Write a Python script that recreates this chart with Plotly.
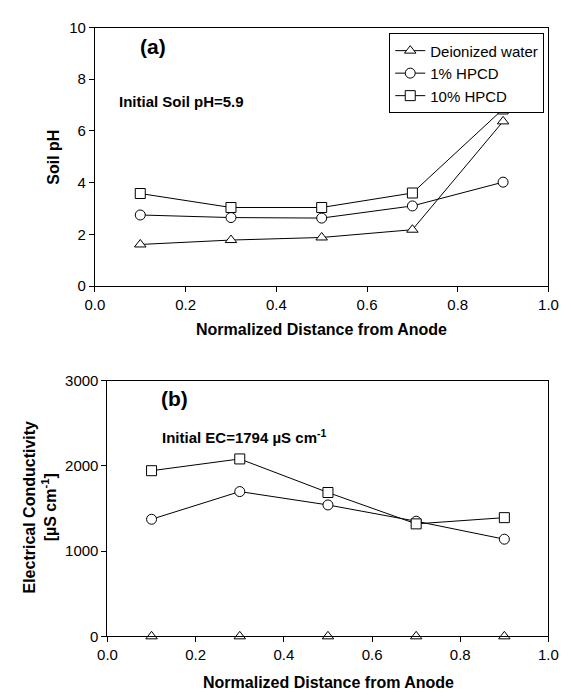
import plotly.graph_objects as go

# ---------------- data ----------------
distance = [0.1, 0.3, 0.5, 0.7, 0.9]
series_names = ["Deionized water", "1% HPCD", "10% HPCD"]

ph_deionized = [1.61, 1.78, 1.88, 2.18, 6.37]
ph_hpcd1 = [2.75, 2.65, 2.63, 3.10, 4.02]
ph_hpcd10 = [3.58, 3.04, 3.04, 3.60, 6.85]

ec_deionized = [0, 0, 0, 0, 0]
ec_hpcd1 = [1374, 1699, 1542, 1351, 1140]
ec_hpcd10 = [1944, 2082, 1688, 1320, 1393]

x_ticks = [0.0, 0.2, 0.4, 0.6, 0.8, 1.0]

# ---------------- figure ----------------
W, H = 571, 698
FONT = "Liberation Sans, Arial, sans-serif"
symbols = ["triangle-up", "circle", "square"]
msizes = [10, 10, 10]

fig = go.Figure()

ph_sets = [ph_deionized, ph_hpcd1, ph_hpcd10]
ec_sets = [ec_deionized, ec_hpcd1, ec_hpcd10]

for name, ys, sym, ms in zip(series_names, ph_sets, symbols, msizes):
    fig.add_trace(go.Scatter(
        x=distance, y=ys, name=name, mode="lines+markers",
        line=dict(color="black", width=1),
        marker=dict(symbol=sym, size=ms, color="white",
                    line=dict(color="black", width=1)),
        xaxis="x", yaxis="y", cliponaxis=False, showlegend=True))

for name, ys, sym, ms in zip(series_names, ec_sets, symbols, msizes):
    show_line = name != "Deionized water"
    fig.add_trace(go.Scatter(
        x=distance, y=ys, name=name, mode="lines+markers" if show_line else "markers",
        line=dict(color="black", width=1),
        marker=dict(symbol=sym, size=ms, color="white",
                    line=dict(color="black", width=1)),
        xaxis="x2", yaxis="y2", cliponaxis=False, showlegend=False))

def px_x(p):
    return p / W

def px_y(p):
    return 1 - p / H

axis_common = dict(
    showline=True, linecolor="black", linewidth=1, mirror=True,
    ticks="outside", ticklen=5, tickwidth=1, tickcolor="black",
    showgrid=False, zeroline=False,
    tickfont=dict(family=FONT, size=15, color="black"),
)

fig.update_layout(
    width=W, height=H,
    margin=dict(l=0, r=0, t=0, b=0),
    paper_bgcolor="white", plot_bgcolor="white",
    font=dict(family=FONT, color="black"),
    xaxis=dict(domain=[px_x(88), px_x(558)], range=[0, 1], tickvals=x_ticks,
               tickformat=".1f", anchor="y", **axis_common),
    yaxis=dict(domain=[px_y(284), px_y(19)], range=[0, 10], dtick=2,
               anchor="x", **axis_common),
    xaxis2=dict(domain=[px_x(101), px_x(558)], range=[0, 1], tickvals=x_ticks,
                tickformat=".1f", anchor="y2", **axis_common),
    yaxis2=dict(domain=[px_y(643), px_y(381)], range=[0, 3000], dtick=1000,
                anchor="x2", **axis_common),
    legend=dict(x=px_x(393), y=px_y(25), xanchor="left", yanchor="top",
                bgcolor="white", bordercolor="black", borderwidth=1,
                font=dict(family=FONT, size=15, color="black"),
                tracegroupgap=0, itemwidth=30),
    showlegend=True,
)

def ann(text, x, y, size, xanchor="center", angle=0):
    fig.add_annotation(text=text, x=px_x(x), y=px_y(y), xref="paper", yref="paper",
                       showarrow=False, xanchor=xanchor, yanchor="middle",
                       textangle=angle,
                       font=dict(family=FONT, size=size, color="black"))

ann("<b>(a)</b>", 148, 38, 21)
ann("<b>Initial Soil pH=5.9</b>", 111, 95, 15, xanchor="left")
ann("<b>(b)</b>", 170, 399, 21)
ann("<b>Initial EC=1794 µS cm<sup>-1</sup></b>", 155, 438, 15, xanchor="left")
ann("<b>Soil pH</b>", 45, 152, 16, angle=-90)
ann("<b>Electrical Conductivity<br>[µS cm<sup>-1</sup>]</b>", 31, 510, 16, angle=-90)
ann("<b>Normalized Distance from Anode</b>", 323, 329, 16)
ann("<b>Normalized Distance from Anode</b>", 330, 690, 16)

fig.write_html("out.html")
